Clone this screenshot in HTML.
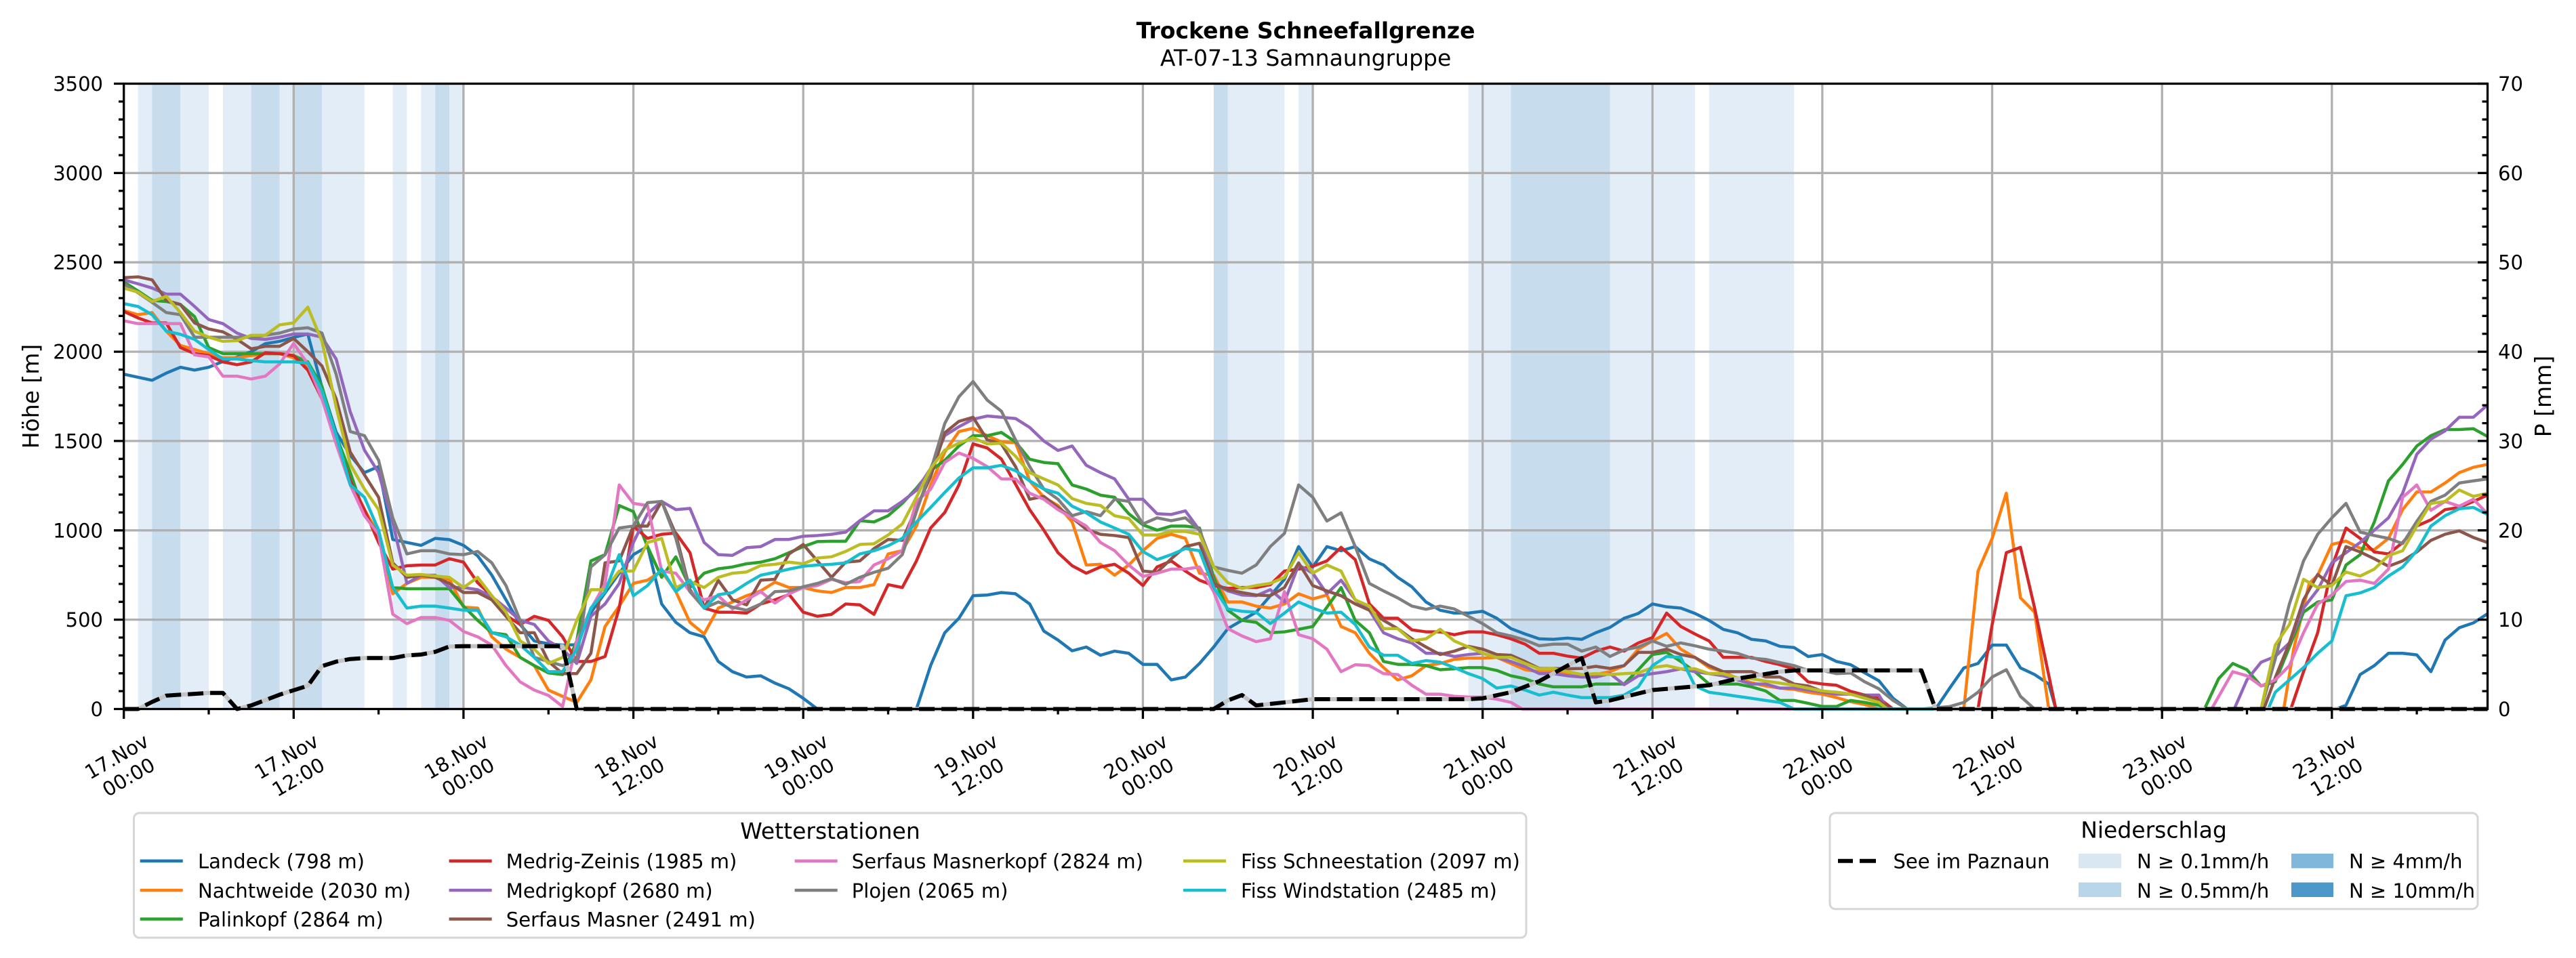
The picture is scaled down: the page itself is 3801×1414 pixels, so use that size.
<!DOCTYPE html>
<html>
<head>
<meta charset="utf-8">
<style>
html,body{margin:0;padding:0;background:#fff;}
svg{display:block;}
text{font-family:"DejaVu Sans","Liberation Sans",sans-serif;fill:#000;}
.l{fill:none;stroke-width:4.5;stroke-linejoin:round;stroke-linecap:butt;}
</style>
</head>
<body>
<svg width="3801" height="1414" viewBox="0 0 3801 1414" xmlns="http://www.w3.org/2000/svg">
<rect x="0" y="0" width="3801" height="1414" fill="#fff"/>

<!-- Title -->
<text x="1926.6" y="56.7" font-size="33" font-weight="bold" text-anchor="middle">Trockene Schneefallgrenze</text>
<text x="1926.6" y="97" font-size="33" text-anchor="middle">AT-07-13 Samnaungruppe</text>

<!-- Precipitation bands (data coords) -->
<g transform="translate(182.7,1046.5) scale(20.885,-0.26371)">
  <g fill="#e3edf7">
    <rect x="1" y="0" width="1" height="3500"/>
    <rect x="4" y="0" width="2" height="3500"/>
    <rect x="7" y="0" width="2" height="3500"/>
    <rect x="11" y="0" width="1" height="3500"/>
    <rect x="14" y="0" width="3" height="3500"/>
    <rect x="19" y="0" width="1" height="3500"/>
    <rect x="21" y="0" width="1" height="3500"/>
    <rect x="23" y="0" width="1" height="3500"/>
    <rect x="78" y="0" width="4" height="3500"/>
    <rect x="83" y="0" width="1" height="3500"/>
    <rect x="95" y="0" width="3" height="3500"/>
    <rect x="105" y="0" width="6" height="3500"/>
    <rect x="112" y="0" width="6" height="3500"/>
  </g>
  <g fill="#c7dcec">
    <rect x="2" y="0" width="2" height="3500"/>
    <rect x="9" y="0" width="2" height="3500"/>
    <rect x="12" y="0" width="2" height="3500"/>
    <rect x="22" y="0" width="1" height="3500"/>
    <rect x="77" y="0" width="1" height="3500"/>
    <rect x="98" y="0" width="7" height="3500"/>
  </g>
</g>

<!-- Grid -->
<g stroke="#b0b0b0" stroke-width="3.3" fill="none">
  <path d="M182.7 914.6H3670.5M182.7 782.8H3670.5M182.7 650.9H3670.5M182.7 519.1H3670.5M182.7 387.2H3670.5M182.7 255.4H3670.5"/>
  <path d="M433.3 123.5V1046.5M683.9 123.5V1046.5M934.6 123.5V1046.5M1185.2 123.5V1046.5M1435.8 123.5V1046.5M1686.4 123.5V1046.5M1937.1 123.5V1046.5M2187.7 123.5V1046.5M2438.3 123.5V1046.5M2688.9 123.5V1046.5M2939.5 123.5V1046.5M3190.2 123.5V1046.5M3440.8 123.5V1046.5"/>
</g>

<!-- Station lines (data coords) -->
<g transform="translate(182.7,1046.5) scale(20.885,-0.26371)">
<polyline class="l" vector-effect="non-scaling-stroke" stroke="#1f77b4" points="0,1874 1,1857 2,1840 3,1880 4,1913 5,1897 6,1913 7,1945 8,1970 9,2000 10,2045 11,2058 12,2080 13,2099 14,1800 15,1550 16,1420 17,1323 18,1357 19,949 20,932 21,916 22,955 23,948 24,916 25,857 26,749 27,611 28,473 29,381 30,365 31,358 32,360 33,540 34,650 35,760 36,864 37,910 38,588 39,485 40,427 41,404 42,266 43,209 44,179 45,186 46,145 47,113 48,60 49,0 56,0 57,243 58,427 59,508 60,634 61,638 62,652 63,645 64,588 65,436 66,386 67,326 68,347 69,301 70,324 71,312 72,250 73,250 74,163 75,179 76,255 77,347 78,450 79,496 80,542 81,634 82,726 83,909 84,795 85,909 86,886 87,909 88,840 89,806 90,737 91,684 92,599 93,553 94,537 95,537 96,547 97,508 98,450 99,420 100,393 101,390 102,397 103,390 104,427 105,457 106,508 107,535 108,588 109,572 110,565 111,535 112,496 113,446 114,427 115,390 116,381 117,351 118,344 119,294 120,305 121,266 122,248 123,202 124,158 125,60 126,0 128,0 129,117 130,230 131,255 132,358 133,358 134,230 135,193 136,140 136.5,0 156.3,0 157,21 158,193 159,243 160,312 161,312 162,303 163,209 164,386 165,455 166,482 167,533"/>
<polyline class="l" vector-effect="non-scaling-stroke" stroke="#ff7f0e" points="0,2230 1,2207 2,2219 3,2115 4,2035 5,2012 6,1989 7,1966 8,1966 9,1978 10,1989 11,1989 12,1966 13,1920 14,1782 15,1530 16,1277 17,1116 18,978 19,645 20,703 21,737 22,737 23,726 24,570 25,565 26,404 27,335 28,289 29,243 30,106 31,71 32,37 33,163 34,462 35,576 36,703 37,721 38,772 39,657 40,485 41,420 42,565 43,599 44,634 45,661 46,710 47,680 48,680 49,661 50,652 51,680 52,680 53,696 54,868 55,886 56,1024 57,1254 58,1438 59,1553 60,1571 61,1530 62,1495 63,1491 64,1277 65,1185 66,1139 67,1047 68,806 69,810 70,749 71,806 72,886 73,955 74,978 75,955 76,760 77,749 78,599 79,599 80,576 81,565 82,588 83,645 84,616 85,638 86,462 87,427 88,312 89,232 90,163 91,186 92,243 93,255 94,278 95,285 96,285 97,289 98,255 99,220 100,209 101,209 102,193 103,179 104,193 105,209 106,243 107,335 108,381 109,423 110,335 111,289 112,232 113,209 114,170 115,147 116,129 117,117 118,110 119,94 120,83 121,64 122,41 123,25 124,0 130,0 131,772 132,955 133,1208 134,622 135,542 136,0 152.6,0 153.3,335 154.4,703 155,749 156,921 157,940 158,900 159,892 160,955 161,1116 162,1215 163,1215 164,1265 165,1323 166,1353 167,1369"/>
<polyline class="l" vector-effect="non-scaling-stroke" stroke="#2ca02c" points="0,2391 1,2340 2,2287 3,2281 4,2264 5,2196 6,2023 7,1989 8,1989 9,1989 10,1989 11,1989 12,1978 13,1943 14,1805 15,1530 16,1323 17,1093 18,978 19,680 20,673 21,673 22,673 23,673 24,576 25,496 26,427 27,416 28,289 29,243 30,202 31,193 32,381 33,829 34,864 35,1139 36,1105 37,909 38,737 39,852 40,680 41,760 42,785 43,795 44,813 45,822 46,841 47,875 48,909 49,937 50,939 51,939 52,1054 53,1047 54,1082 55,1151 56,1236 57,1334 58,1392 59,1472 60,1530 61,1530 62,1548 63,1495 64,1398 65,1380 66,1373 67,1254 68,1231 69,1197 70,1185 71,1093 72,1031 73,1001 74,1024 75,1024 76,1013 77,737 78,553 79,496 80,485 81,427 82,432 83,446 84,462 85,570 86,680 87,496 88,427 89,266 90,250 91,250 92,243 93,220 94,225 95,232 96,232 97,216 98,186 99,170 100,140 101,124 102,124 103,124 104,140 105,140 106,140 107,220 108,305 109,317 110,266 111,209 112,140 113,140 114,140 115,124 116,101 117,48 118,48 119,32 120,14 121,14 122,48 123,37 124,21 124.7,0 147,0 148,170 149,255 150,220 151,129 152,152 153,347 154,542 155,599 156,611 157,806 158,864 159,1047 160,1277 161,1369 162,1472 163,1530 164,1564 165,1564 166,1569 167,1525"/>
<polyline class="l" vector-effect="non-scaling-stroke" stroke="#d62728" points="0,2225 1,2189 2,2161 3,2161 4,2023 5,1989 6,1978 7,1943 8,1927 9,1943 10,1994 11,1989 12,1978 13,1897 14,1736 15,1507 16,1277 17,1116 18,932 19,783 20,802 21,806 22,806 23,841 24,822 25,707 26,634 27,524 28,473 29,519 30,496 31,404 32,266 33,266 34,294 35,565 36,1024 37,955 38,978 39,985 40,875 41,565 42,542 43,542 44,537 45,588 46,611 47,641 48,542 49,519 50,530 51,588 52,583 53,530 54,696 55,680 56,829 57,1013 58,1100 59,1254 60,1484 61,1461 62,1399 63,1259 64,1116 65,1001 66,875 67,802 68,760 69,795 70,810 71,760 72,691 73,795 74,829 75,772 76,721 77,691 78,675 79,680 80,680 81,696 82,772 83,783 84,799 85,829 86,905 87,836 88,588 89,508 90,508 91,443 92,432 93,432 94,416 95,432 96,432 97,416 98,393 99,363 100,312 101,312 102,296 103,285 104,324 105,347 106,324 107,370 108,400 109,537 110,462 111,420 112,381 113,289 114,289 115,289 116,266 117,248 118,225 119,152 120,140 121,133 122,99 123,78 124,60 125,0 131,0 132,473 133,875 134,905 135,565 136.5,0 153.1,0 154,209 155,427 156,795 157,1013 158,955 159,879 160,868 161,932 162,1024 163,1059 164,1116 165,1128 166,1162 167,1197"/>
<polyline class="l" vector-effect="non-scaling-stroke" stroke="#9467bd" points="0,2402 1,2380 2,2356 3,2322 4,2322 5,2253 6,2180 7,2157 8,2104 9,2074 10,2069 11,2081 12,2099 13,2099 14,2081 15,1959 16,1663 17,1449 18,1323 19,1043 20,703 21,749 22,749 23,680 24,680 25,668 26,629 27,565 28,496 29,473 30,381 31,335 32,255 33,519 34,588 35,703 36,932 37,1093 38,1162 39,1116 40,1123 41,932 42,864 43,860 44,903 45,909 46,949 47,949 48,967 49,971 50,978 51,990 52,1054 53,1109 54,1109 55,1162 56,1224 57,1346 58,1530 59,1580 60,1622 61,1640 62,1633 63,1626 64,1576 65,1500 66,1447 67,1472 68,1364 69,1323 70,1288 71,1174 72,1174 73,1093 74,1089 75,1109 76,1001 77,703 78,661 79,638 80,634 81,668 82,600 83,806 84,760 85,645 86,721 87,611 88,553 89,427 90,393 91,370 92,312 93,312 94,294 95,305 96,312 97,289 98,266 99,237 100,198 101,198 102,186 103,179 104,179 105,198 106,136 107,186 108,198 109,209 110,225 111,209 112,198 113,186 114,163 115,140 116,140 117,117 118,117 119,106 120,94 121,83 122,83 123,78 124,78 124.6,0 149.1,0 150,163 151,262 152,294 153,370 154,565 155,668 156,818 157,875 158,932 159,1001 160,1070 161,1208 162,1426 163,1511 164,1557 165,1633 166,1633 167,1702"/>
<polyline class="l" vector-effect="non-scaling-stroke" stroke="#8c564b" points="0,2414 1,2419 2,2402 3,2287 4,2264 5,2161 6,2127 7,2111 8,2069 9,2016 10,2030 11,2030 12,2074 13,2000 14,1920 15,1736 16,1438 17,1311 18,1185 19,818 20,737 21,749 22,737 23,703 24,652 25,652 26,611 27,519 28,427 29,427 30,266 31,198 32,198 33,312 34,818 35,829 36,1024 37,1024 38,1162 39,978 40,668 41,565 42,720 43,611 44,583 45,721 46,726 47,868 48,921 49,829 50,737 51,822 52,829 53,898 54,949 55,944 56,1128 57,1300 58,1546 59,1610 60,1633 61,1507 62,1484 63,1357 64,1174 65,1190 66,1128 67,1070 68,1006 69,978 70,971 71,960 72,772 73,765 74,841 75,909 76,928 77,703 78,668 79,652 80,638 81,634 82,680 83,818 84,691 85,661 86,634 87,588 88,553 89,496 90,450 91,393 92,347 93,305 94,324 95,351 96,335 97,305 98,301 99,266 100,227 101,227 102,225 103,227 104,239 105,227 106,243 107,317 108,317 109,335 110,305 111,289 112,243 113,209 114,209 115,209 116,179 117,179 118,140 119,129 120,99 121,94 122,83 123,78 124,48 124.8,0 151.2,0 152,175 153,370 154,611 155,753 156,691 157,909 158,879 159,841 160,799 161,829 162,879 163,944 164,978 165,997 166,960 167,932"/>
<polyline class="l" vector-effect="non-scaling-stroke" stroke="#e377c2" points="0,2173 1,2157 2,2157 3,2157 4,2157 5,1982 6,1971 7,1863 8,1863 9,1847 10,1863 11,1931 12,2046 13,1931 14,1736 15,1484 16,1254 17,1082 18,978 19,531 20,478 21,512 22,512 23,496 24,434 25,404 26,358 27,243 28,152 29,106 30,76 31,14 32,380 33,560 34,700 35,1254 36,1151 37,1139 38,772 39,760 40,657 41,611 42,634 43,560 44,611 45,657 46,593 47,645 48,680 49,691 50,726 51,707 52,714 53,806 54,841 55,886 56,1162 57,1230 58,1380 59,1433 60,1403 61,1357 62,1288 63,1288 64,1208 65,1174 66,1116 67,1070 68,1024 69,932 70,886 71,806 72,742 73,760 74,783 75,783 76,795 77,657 78,450 79,409 80,377 81,393 82,657 83,416 84,393 85,335 86,209 87,248 88,243 89,198 90,193 91,133 92,83 93,83 94,71 95,67 96,67 97,55 98,37 98.8,0 147.5,0 149,209 150,186 151,129 152,163 153,243 154,427 155,588 156,638 157,714 158,721 159,703 160,783 161,1185 162,1254 163,1112 164,1162 165,1135 166,1174 167,1093"/>
<polyline class="l" vector-effect="non-scaling-stroke" stroke="#7f7f7f" points="0,2379 1,2330 2,2276 3,2219 4,2207 5,2081 6,2081 7,2081 8,2081 9,2081 10,2092 11,2104 12,2127 13,2134 14,2104 15,1874 16,1553 17,1530 18,1392 19,1070 20,868 21,886 22,886 23,868 24,864 25,882 26,818 27,691 28,496 29,289 30,266 31,243 32,280 33,795 34,864 35,1013 36,1024 37,1155 38,1162 39,955 40,657 41,565 42,599 43,570 44,553 45,588 46,657 47,661 48,684 49,703 50,730 51,698 52,737 53,765 54,788 55,864 56,1105 57,1334 58,1598 59,1748 60,1833 61,1729 62,1667 63,1507 64,1357 65,1231 66,1174 67,1082 68,1105 69,1082 70,1174 71,1162 72,1036 73,1070 74,1054 75,1070 76,1001 77,795 78,776 79,760 80,806 81,909 82,983 83,1254 84,1185 85,1052 86,1098 87,909 88,703 89,661 90,622 91,576 92,558 93,576 94,560 95,519 96,478 97,427 98,409 99,386 100,354 101,363 102,363 103,324 104,347 105,294 106,331 107,347 108,381 109,351 110,370 111,354 112,335 113,324 114,312 115,285 116,278 117,260 118,243 119,216 120,216 121,198 122,202 123,152 124,113 125,48 126,0 127,0 129,14 130,37 131,94 132,179 133,220 134,71 135,0 151,0 152,280 153,588 154,829 155,978 156,1070 157,1151 158,990 159,971 160,955 161,926 162,1050 163,1162 164,1197 165,1265 166,1277 167,1288"/>
<polyline class="l" vector-effect="non-scaling-stroke" stroke="#bcbd22" points="0,2356 1,2333 2,2281 3,2310 4,2219 5,2115 6,2081 7,2058 8,2062 9,2092 10,2092 11,2150 12,2161 13,2249 14,2058 15,1690 16,1369 17,1231 18,1116 19,806 20,749 21,753 22,744 23,737 24,680 25,737 26,634 27,542 28,381 29,335 30,255 31,289 32,496 33,668 34,668 35,772 36,772 37,932 38,955 39,680 40,714 41,680 42,737 43,760 44,767 45,803 46,810 47,822 48,813 49,845 50,852 51,882 52,921 53,925 54,974 55,1036 56,1185 57,1346 58,1449 59,1488 60,1518 61,1484 62,1488 63,1415 64,1323 65,1288 66,1254 67,1178 68,1151 69,1139 70,1082 71,1066 72,974 73,974 74,994 75,994 76,978 77,795 78,707 79,675 80,691 81,703 82,737 83,875 84,760 85,806 86,772 87,611 88,576 89,450 90,450 91,381 92,393 93,446 94,381 95,347 96,312 97,289 98,289 99,255 100,225 101,227 102,209 103,193 104,198 105,193 106,198 107,202 108,232 109,243 110,225 111,225 112,198 113,198 114,175 115,170 116,156 117,145 118,133 119,117 120,101 121,94 122,83 123,60 124,37 124.6,0 151,0 152,358 153,473 154,726 155,680 156,691 157,767 158,744 159,783 160,859 161,886 162,1024 163,1151 164,1162 165,1226 166,1190 167,1208"/>
<polyline class="l" vector-effect="non-scaling-stroke" stroke="#17becf" points="0,2269 1,2253 2,2207 3,2115 4,2097 5,2069 6,2012 7,1959 8,1959 9,1950 10,1943 11,1943 12,1943 13,1936 14,1782 15,1530 16,1254 17,1185 18,1001 19,680 20,565 21,576 22,576 23,565 24,553 25,553 26,427 27,404 28,358 29,289 30,209 31,209 32,335 33,565 34,657 35,864 36,634 37,691 38,783 39,657 40,721 41,565 42,640 43,652 44,703 45,749 46,765 47,783 48,799 49,806 50,810 51,818 52,868 53,886 54,914 55,955 56,1047 57,1128 58,1212 59,1293 60,1350 61,1350 62,1364 63,1334 64,1277 65,1231 66,1208 67,1135 68,1098 69,1047 70,1013 71,978 72,882 73,836 74,864 75,898 76,886 77,680 78,560 79,547 80,542 81,478 82,537 83,599 84,565 85,537 86,542 87,473 88,347 89,301 90,301 91,255 92,271 93,262 94,232 95,198 96,170 97,117 98,129 99,106 100,78 101,94 102,78 103,64 104,64 105,64 106,78 107,124 108,243 109,294 110,289 111,129 112,94 113,83 114,71 115,60 116,48 117,37 118,0 151.5,0 152,94 153,163 154,232 155,312 156,381 157,634 158,650 159,680 160,744 161,795 162,886 163,1024 164,1082 165,1121 166,1128 167,1089"/>
</g>

<!-- See im Paznaun dashed (screen coords) -->
<polyline fill="none" stroke="#c4c4c4" stroke-width="6" stroke-linejoin="round" points="182.7,1046.5 203.6,1046.5 224.5,1036.0 245.4,1026.7 266.2,1025.4 287.1,1024.1 308.0,1022.8 328.9,1022.8 349.8,1046.5 370.7,1041.2 391.6,1033.3 412.4,1025.4 433.3,1018.8 454.2,1012.2 475.1,983.2 496.0,976.6 516.9,972.7 537.7,971.3 579.5,971.3 600.4,967.4 621.3,966.1 642.2,962.1 663.1,954.2 683.9,953.7 830.1,953.7 851.0,1046.5 1790.8,1046.5 1811.7,1033.8 1832.6,1025.9 1853.5,1041.2 1895.3,1036.7 1937.0,1032.0 2166.8,1032.0 2187.7,1030.7 2229.4,1021.7 2271.2,1005.4 2313.0,982.4 2333.9,971.3 2354.7,1036.7 2375.6,1033.8 2417.4,1023.6 2438.3,1018.5 2521.8,1011.4 2563.6,1001.7 2626.3,991.4 2647.1,989.5 2835.1,989.5 2856.0,1046.5 3670.5,1046.5"/>
<polyline fill="none" stroke="#000" stroke-width="6" stroke-dasharray="23 10" stroke-linejoin="round" points="182.7,1046.5 203.6,1046.5 224.5,1036.0 245.4,1026.7 266.2,1025.4 287.1,1024.1 308.0,1022.8 328.9,1022.8 349.8,1046.5 370.7,1041.2 391.6,1033.3 412.4,1025.4 433.3,1018.8 454.2,1012.2 475.1,983.2 496.0,976.6 516.9,972.7 537.7,971.3 579.5,971.3 600.4,967.4 621.3,966.1 642.2,962.1 663.1,954.2 683.9,953.7 830.1,953.7 851.0,1046.5 1790.8,1046.5 1811.7,1033.8 1832.6,1025.9 1853.5,1041.2 1895.3,1036.7 1937.0,1032.0 2166.8,1032.0 2187.7,1030.7 2229.4,1021.7 2271.2,1005.4 2313.0,982.4 2333.9,971.3 2354.7,1036.7 2375.6,1033.8 2417.4,1023.6 2438.3,1018.5 2521.8,1011.4 2563.6,1001.7 2626.3,991.4 2647.1,989.5 2835.1,989.5 2856.0,1046.5 3670.5,1046.5"/>

<!-- Spines -->
<rect x="182.7" y="123.5" width="3487.8" height="923" fill="none" stroke="#000" stroke-width="3.3"/>

<!-- Ticks -->
<g stroke="#000" stroke-width="3.3" fill="none">
  <path d="M168 1046.5H182.7M168 914.6H182.7M168 782.8H182.7M168 650.9H182.7M168 519.1H182.7M168 387.2H182.7M168 255.4H182.7M168 123.5H182.7"/>
  <path d="M175 1020.1H182.7M175 993.8H182.7M175 967.4H182.7M175 941.0H182.7M175 888.3H182.7M175 861.9H182.7M175 835.5H182.7M175 809.2H182.7M175 756.4H182.7M175 730.0H182.7M175 703.7H182.7M175 677.3H182.7M175 624.6H182.7M175 598.2H182.7M175 571.8H182.7M175 545.5H182.7M175 492.7H182.7M175 466.3H182.7M175 440.0H182.7M175 413.6H182.7M175 360.9H182.7M175 334.5H182.7M175 308.1H182.7M175 281.7H182.7M175 229.0H182.7M175 202.6H182.7M175 176.3H182.7M175 149.9H182.7"/>
  <path d="M3656 1046.5H3670.5M3656 914.6H3670.5M3656 782.8H3670.5M3656 650.9H3670.5M3656 519.1H3670.5M3656 387.2H3670.5M3656 255.4H3670.5M3656 123.5H3670.5"/>
  <path d="M3662.5 1020.1H3670.5M3662.5 993.8H3670.5M3662.5 967.4H3670.5M3662.5 941.0H3670.5M3662.5 888.3H3670.5M3662.5 861.9H3670.5M3662.5 835.5H3670.5M3662.5 809.2H3670.5M3662.5 756.4H3670.5M3662.5 730.0H3670.5M3662.5 703.7H3670.5M3662.5 677.3H3670.5M3662.5 624.6H3670.5M3662.5 598.2H3670.5M3662.5 571.8H3670.5M3662.5 545.5H3670.5M3662.5 492.7H3670.5M3662.5 466.3H3670.5M3662.5 440.0H3670.5M3662.5 413.6H3670.5M3662.5 360.9H3670.5M3662.5 334.5H3670.5M3662.5 308.1H3670.5M3662.5 281.7H3670.5M3662.5 229.0H3670.5M3662.5 202.6H3670.5M3662.5 176.3H3670.5M3662.5 149.9H3670.5"/>
  <path d="M182.7 1046.5V1061M433.3 1046.5V1061M683.9 1046.5V1061M934.6 1046.5V1061M1185.2 1046.5V1061M1435.8 1046.5V1061M1686.4 1046.5V1061M1937.1 1046.5V1061M2187.7 1046.5V1061M2438.3 1046.5V1061M2688.9 1046.5V1061M2939.5 1046.5V1061M3190.2 1046.5V1061M3440.8 1046.5V1061"/>
  <path d="M308.0 1046.5V1054.5M558.6 1046.5V1054.5M809.3 1046.5V1054.5M1059.9 1046.5V1054.5M1310.5 1046.5V1054.5M1561.1 1046.5V1054.5M1811.7 1046.5V1054.5M2062.4 1046.5V1054.5M2313.0 1046.5V1054.5M2563.6 1046.5V1054.5M2814.2 1046.5V1054.5M3064.8 1046.5V1054.5M3315.5 1046.5V1054.5M3566.1 1046.5V1054.5"/>
</g>

<!-- Left tick labels -->
<g font-size="29" text-anchor="end">
  <text x="152" y="1057">0</text>
  <text x="152" y="925.1">500</text>
  <text x="152" y="793.3">1000</text>
  <text x="152" y="661.4">1500</text>
  <text x="152" y="529.6">2000</text>
  <text x="152" y="397.7">2500</text>
  <text x="152" y="265.9">3000</text>
  <text x="152" y="134">3500</text>
</g>
<!-- Right tick labels -->
<g font-size="29" text-anchor="start">
  <text x="3686" y="1057">0</text>
  <text x="3686" y="925.1">10</text>
  <text x="3686" y="793.3">20</text>
  <text x="3686" y="661.4">30</text>
  <text x="3686" y="529.6">40</text>
  <text x="3686" y="397.7">50</text>
  <text x="3686" y="265.9">60</text>
  <text x="3686" y="134">70</text>
</g>

<!-- X tick labels -->
<g font-size="29" text-anchor="middle">
  <text transform="translate(181,1132) rotate(-30)"><tspan x="0" y="-7.5">17.Nov</tspan><tspan x="0" y="27.5">00:00</tspan></text>
  <text transform="translate(431.5,1132) rotate(-30)"><tspan x="0" y="-7.5">17.Nov</tspan><tspan x="0" y="27.5">12:00</tspan></text>
  <text transform="translate(682,1132) rotate(-30)"><tspan x="0" y="-7.5">18.Nov</tspan><tspan x="0" y="27.5">00:00</tspan></text>
  <text transform="translate(933,1132) rotate(-30)"><tspan x="0" y="-7.5">18.Nov</tspan><tspan x="0" y="27.5">12:00</tspan></text>
  <text transform="translate(1183.5,1132) rotate(-30)"><tspan x="0" y="-7.5">19.Nov</tspan><tspan x="0" y="27.5">00:00</tspan></text>
  <text transform="translate(1434,1132) rotate(-30)"><tspan x="0" y="-7.5">19.Nov</tspan><tspan x="0" y="27.5">12:00</tspan></text>
  <text transform="translate(1684.5,1132) rotate(-30)"><tspan x="0" y="-7.5">20.Nov</tspan><tspan x="0" y="27.5">00:00</tspan></text>
  <text transform="translate(1935,1132) rotate(-30)"><tspan x="0" y="-7.5">20.Nov</tspan><tspan x="0" y="27.5">12:00</tspan></text>
  <text transform="translate(2186,1132) rotate(-30)"><tspan x="0" y="-7.5">21.Nov</tspan><tspan x="0" y="27.5">00:00</tspan></text>
  <text transform="translate(2436.5,1132) rotate(-30)"><tspan x="0" y="-7.5">21.Nov</tspan><tspan x="0" y="27.5">12:00</tspan></text>
  <text transform="translate(2687,1132) rotate(-30)"><tspan x="0" y="-7.5">22.Nov</tspan><tspan x="0" y="27.5">00:00</tspan></text>
  <text transform="translate(2937.5,1132) rotate(-30)"><tspan x="0" y="-7.5">22.Nov</tspan><tspan x="0" y="27.5">12:00</tspan></text>
  <text transform="translate(3188.5,1132) rotate(-30)"><tspan x="0" y="-7.5">23.Nov</tspan><tspan x="0" y="27.5">00:00</tspan></text>
  <text transform="translate(3439,1132) rotate(-30)"><tspan x="0" y="-7.5">23.Nov</tspan><tspan x="0" y="27.5">12:00</tspan></text>
</g>

<!-- Axis labels -->
<text transform="translate(57,585) rotate(-90)" font-size="33" text-anchor="middle">Höhe [m]</text>
<text transform="translate(3764,585) rotate(-90)" font-size="33" text-anchor="middle">P [mm]</text>

<!-- Legend 1: Wetterstationen -->
<rect x="197.5" y="1200" width="2054.5" height="184" rx="8" ry="8" fill="#fff" stroke="#d6d6d6" stroke-width="3"/>
<text x="1225" y="1238" font-size="33" text-anchor="middle">Wetterstationen</text>
<g stroke-width="4.5" fill="none">
  <path d="M206.7 1270.7H269.8" stroke="#1f77b4"/>
  <path d="M206.7 1314H269.8" stroke="#ff7f0e"/>
  <path d="M206.7 1356.5H269.8" stroke="#2ca02c"/>
  <path d="M662.6 1270.7H725.7" stroke="#d62728"/>
  <path d="M662.6 1314H725.7" stroke="#9467bd"/>
  <path d="M662.6 1356.5H725.7" stroke="#8c564b"/>
  <path d="M1172.6 1270.7H1235.7" stroke="#e377c2"/>
  <path d="M1172.6 1314H1235.7" stroke="#7f7f7f"/>
  <path d="M1746 1270.7H1809" stroke="#bcbd22"/>
  <path d="M1746 1314H1809" stroke="#17becf"/>
</g>
<g font-size="29">
  <text x="292" y="1281.5">Landeck (798 m)</text>
  <text x="292" y="1324.8">Nachtweide (2030 m)</text>
  <text x="292" y="1367.3">Palinkopf (2864 m)</text>
  <text x="746.8" y="1281.5">Medrig-Zeinis (1985 m)</text>
  <text x="746.8" y="1324.8">Medrigkopf (2680 m)</text>
  <text x="746.8" y="1367.3">Serfaus Masner (2491 m)</text>
  <text x="1256.8" y="1281.5">Serfaus Masnerkopf (2824 m)</text>
  <text x="1256.8" y="1324.8">Plojen (2065 m)</text>
  <text x="1831" y="1281.5">Fiss Schneestation (2097 m)</text>
  <text x="1831" y="1324.8">Fiss Windstation (2485 m)</text>
</g>

<!-- Legend 2: Niederschlag -->
<rect x="2700" y="1200" width="956" height="141.7" rx="8" ry="8" fill="#fff" stroke="#d6d6d6" stroke-width="3"/>
<text x="3178" y="1236.7" font-size="33" text-anchor="middle">Niederschlag</text>
<path d="M2712 1270.7H2734M2744 1270.7H2768" stroke="#000" stroke-width="6" fill="none"/>
<rect x="3067" y="1260" width="63" height="21.5" fill="#d9e7f3"/>
<rect x="3067" y="1302.5" width="63" height="21.5" fill="#b9d5ea"/>
<rect x="3381" y="1260" width="62" height="21.5" fill="#81b7da"/>
<rect x="3381" y="1302.5" width="62" height="21.5" fill="#4b98c9"/>
<g font-size="29">
  <text x="2793.5" y="1281.5">See im Paznaun</text>
  <text x="3153" y="1281.5">N ≥ 0.1mm/h</text>
  <text x="3153" y="1324.8">N ≥ 0.5mm/h</text>
  <text x="3466" y="1281.5">N ≥ 4mm/h</text>
  <text x="3466" y="1324.8">N ≥ 10mm/h</text>
</g>
</svg>
</body>
</html>
